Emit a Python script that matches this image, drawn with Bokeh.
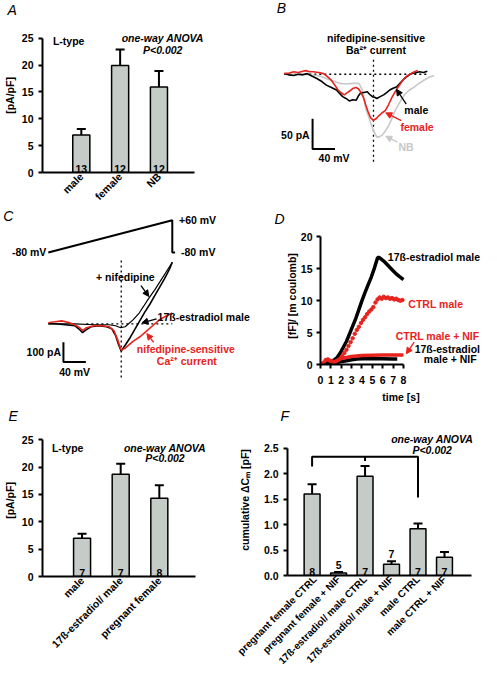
import numpy as np
from bokeh.plotting import figure
from bokeh.layouts import column, row
from bokeh.models import (Range1d, Label, ColumnDataSource, Whisker, TeeHead, LabelSet,
                          Arrow, NormalHead, FixedTicker, PrintfTickFormatter)
from bokeh.core.properties import value
from bokeh.embed import file_html
from bokeh.resources import INLINE

FONT = "Liberation Sans"
RED = "#e8231d"
NB_GRAY = "#c8c8c8"
BAR_FILL = "#c5cbc7"
FS = "10.5px"

# ---------------- data ----------------
# A: L-type current density
a_groups = ["male", "female", "NB"]
a_mean = [7.0, 19.9, 15.9]
a_sem = [1.1, 3.0, 3.0]
a_n = ["13", "12", "12"]

# B: nifedipine-sensitive Ba2+ current traces (mV, pA)
b_male_mv = [-80, -72, -63, -55, -47, -39, -31, -22, -13, -5, 4, 13, 19, 24, 30, 36, 42, 48, 52, 56,
             62, 68, 72, 77, 81, 85, 91, 97, 103, 108, 114, 120, 127, 134, 140, 146, 153, 161, 168, 175]
b_male_pa = [1, -1, -2, 0, -1, 1, -3, -7, -12, -18, -22, -26, -32, -37, -40, -44, -42, -43, -36, -31,
             -30, -29, -33, -37, -38, -40, -37, -34, -30, -26, -23, -21, -14, -7, -3, 1, 2, 4, 3, 5]
b_female_mv = [-80, -71, -63, -55, -47, -42, -35, -28, -19, -10, -3, 4, 10, 16, 22, 27, 33, 39, 43, 48,
               52, 56, 61, 65, 69, 74, 79, 84, 88, 94, 100, 106, 111, 117, 123, 129, 134, 140, 146, 152, 158]
b_female_pa = [1, 2, 4, 3, 5, 6, 4, 4, 3, 1, -4, -10, -18, -26, -31, -34, -30, -26, -23, -22,
               -24, -29, -38, -50, -61, -72, -76, -73, -69, -64, -60, -50, -40, -30, -21, -13, -7, -2, 1, 4, 6]
b_nb_mv = [-80, -65, -51, -36, -22, -13, -5, 7, 19, 30, 42, 53, 56, 59, 62, 65, 71, 77, 81, 85,
           90, 94, 100, 106, 112, 117, 126, 134, 143, 152, 160, 169, 178, 187]
b_nb_pa = [1, 0, 1, -1, -2, -4, -7, -11, -15, -16, -15, -15, -20, -26, -40, -56, -72, -88, -97, -104,
           -103, -101, -94, -85, -73, -61, -46, -34, -26, -21, -15, -10, -5, -2]
b_scale_pa = 50
b_scale_mv = 40

# C: ramp protocol and Ca2+ currents (mV, pA)
c_ramp_x = [-80, 141, 141, 146]
c_ramp_mv = [-80, 60, -80, -80]
c_total_mv = [-80, -68, -50, -33, -24, -19, -12, -4, 10, 24, 33, 40, 45, 50, 57, 66, 75, 84, 92, 101,
              110, 118, 127, 136, 141]
c_total_pa = [0, 0, -5, -10, -30, -45, -30, -15, -10, -15, -25, -60, -105, -140, -110, -70, -25, 20, 60, 100,
              145, 185, 230, 280, 315]
c_nif_mv = [-80, -33, 2, 28, 40, 49, 57, 71, 82, 90, 99, 110, 120, 130, 141]
c_nif_pa = [0, 0, -5, -5, -10, -20, -15, 20, 55, 90, 130, 175, 220, 265, 315]
c_sens_mv = [-80, -68, -56, -42, -33, -24, -19, -12, 2, 16, 28, 37, 44, 50, 57, 71, 84, 94, 106, 118, 130, 141]
c_sens_pa = [5, 10, 15, 5, -5, -20, -35, -20, -10, -10, -15, -35, -85, -135, -125, -90, -65, -40, -10, 20, 40, 55]
c_scale_pa = 100
c_scale_mv = 40

# D: capacitance increase over time
d_e2_t = [0, 0.5, 1.0, 1.3, 1.6, 1.9, 2.2, 2.5, 2.8, 3.1, 3.4, 3.7, 4.0, 4.3, 4.6, 4.9, 5.2, 5.5, 5.6,
          5.8, 6.1, 6.4, 6.7, 7.0, 7.3, 7.6, 8.0]
d_e2_y = [0, 0.1, 0.4, 0.7, 1.1, 1.8, 2.7, 3.6, 4.8, 6.0, 7.2, 8.6, 10.0, 11.3, 12.5, 13.7, 15.1, 16.7, 16.8,
          16.6, 16.2, 15.7, 15.2, 14.7, 14.2, 13.8, 13.3]
d_ctrl_t = [0.1, 0.3, 0.5, 0.7, 0.9, 1.1, 1.3, 1.5, 1.7, 1.9, 2.1, 2.3, 2.5, 2.7, 2.9, 3.1, 3.3, 3.5, 3.7, 3.9,
            4.1, 4.3, 4.5, 4.7, 4.9, 5.1, 5.3, 5.5, 5.7, 5.9, 6.1, 6.3, 6.5, 6.7, 6.9, 7.1, 7.3, 7.5, 7.7, 7.9]
d_ctrl_y = [0.0, 0.3, 0.7, 0.8, 0.6, 0.5, 0.4, 0.5, 0.7, 0.9, 1.3, 1.8, 2.3, 2.9, 3.5, 4.1, 4.8, 5.4, 5.9, 6.5,
            7.0, 7.4, 7.9, 8.3, 8.6, 9.0, 9.7, 10.2, 10.5, 10.3, 10.6, 10.4, 10.5, 10.3, 10.4, 10.2, 10.3, 10.1, 10.0, 10.1]
d_ctrlnif_t = [0, 0.5, 1.0, 1.5, 2.0, 2.5, 3.0, 3.5, 4.0, 5.0, 6.0, 7.0, 8.0]
d_ctrlnif_y = [0, 0.15, 0.4, 0.7, 0.95, 1.1, 1.25, 1.35, 1.4, 1.45, 1.5, 1.5, 1.5]
d_e2nif_t = [0, 1.0, 1.5, 2.0, 2.5, 3.0, 3.5, 4.0, 5.0, 6.0, 7.0, 7.4]
d_e2nif_y = [0, 0.05, 0.25, 0.45, 0.6, 0.75, 0.85, 0.9, 0.9, 0.9, 0.85, 0.85]
d_xticks = [0, 1, 2, 3, 4, 5, 6, 7, 8]
d_yticks = [0, 5, 10, 15, 20]

# E: L-type current density
e_groups = ["male", "17ß-estradiol/ male", "pregnant female"]
e_mean = [7.0, 18.7, 14.3]
e_sem = [0.8, 1.9, 2.4]
e_n = ["7", "7", "8"]

# F: cumulative capacitance
f_groups = ["pregnant female CTRL", "pregnant female + NIF", "17ß-estradiol/ male CTRL",
            "17ß-estradiol/ male + NIF", "male CTRL", "male CTRL + NIF"]
f_mean = [1.60, 0.05, 1.95, 0.22, 0.92, 0.36]
f_sem = [0.19, 0.02, 0.20, 0.06, 0.10, 0.10]
f_n = ["8", "5", "7", "7", "7", "7"]
f_bracket_top = 2.33
f_bracket_ends = [2.14, 2.25, 1.53]   # drops at groups 0, 2, 4

# ---------------- geometry (reference-picture pixels -> page pixels) ----------------
SX = 481 / 493
SY = 673 / 689
COLS = {"L": (4, 235), "R": (245, 246), "L2": (4, 252), "R2": (4 + 252 / SX, 229)}
ROWS = {1: (0, 209), 2: (214, 197), 3: (416, 267)}
TOP = 18   # header strip (panel letter) above framed axes plots


def make_panel(col, rk, fx, fy, letter=None, axis_at=None):
    """axis_at=(ref x of y axis, ref y of x axis) -> framed plot with axes and a letter title;
    otherwise the frame fills the whole canvas."""
    x0, W = COLS[col]
    y0, H = ROWS[rk]
    R = x0 + W / SX
    if axis_at is not None:
        L, B = axis_at
        T = y0 + TOP / SY
        fl = round((L - x0) * SX)
        fb = round((B - y0) * SY)
        borders = dict(min_border_left=fl, min_border_right=0, min_border_top=TOP,
                       min_border_bottom=H - fb)
        loc = dict(x_axis_location="below", y_axis_location="left")
    else:
        L, T, B = x0, y0, y0 + H / SY
        fl = 0
        borders = dict(min_border_left=0, min_border_right=0, min_border_top=0, min_border_bottom=0)
        loc = dict(x_axis_location=None, y_axis_location=None)
    p = figure(width=W, height=H, output_backend="svg", toolbar_location=None,
               x_range=Range1d(fx(L), fx(R)), y_range=Range1d(fy(B), fy(T)), **borders, **loc)
    p.frame_align = False
    p.outline_line_color = None
    p.background_fill_color = "white"
    p.border_fill_color = "white"
    p.grid.visible = False
    if letter is not None:
        text, left_px = letter
        p.title.text = text
        p.title.align = "left"
        p.title.offset = left_px - fl
        p.title.text_font = FONT
        p.title.text_font_style = "italic"
        p.title.text_font_size = "14px"
        p.title.text_color = "black"
        p.title.standoff = 0
        p.title.vertical_align = "middle"
    else:
        p.title.visible = False

    def to(rx, ry):
        return fx(rx), fy(ry)
    return p, to


def txt(p, to, text, rx, ry, color="black", size=FS, style="bold", align="center",
        baseline="middle"):
    x, y = to(rx, ry)
    p.add_layout(Label(x=x, y=y, text=text, text_font=FONT, text_font_size=size,
                       text_font_style=style, text_color=color, text_align=align,
                       text_baseline=baseline))


def arrow(p, to, r0, r1, color):
    x0, y0 = to(*r0)
    x1, y1 = to(*r1)
    p.add_layout(Arrow(x_start=x0, y_start=y0, x_end=x1, y_end=y1, line_color=color, line_width=1.3,
                       end=NormalHead(size=6, fill_color=color, line_color=color, line_width=1)))


def style_axes(p, yticks, xticks, ylabel=None, xlabel=None, ytick_std=5, ylab_std=3,
               xtick_std=7, xlab_std=4, yfmt=None):
    for ax in p.axis:
        ax.axis_line_width = 2
        ax.axis_line_color = "black"
        ax.major_tick_line_width = 2
        ax.major_tick_line_color = "black"
        ax.major_tick_out = 4
        ax.major_tick_in = 0
        ax.minor_tick_line_color = None
        ax.major_label_text_font = FONT
        ax.major_label_text_font_style = "bold"
        ax.major_label_text_font_size = FS
        ax.major_label_text_color = "black"
        ax.axis_label_text_font = FONT
        ax.axis_label_text_font_style = "bold"
        ax.axis_label_text_font_size = FS
        ax.axis_label_text_color = "black"
    p.yaxis.ticker = FixedTicker(ticks=yticks)
    p.xaxis.ticker = FixedTicker(ticks=xticks)
    p.yaxis.bounds = (yticks[0], yticks[-1])
    p.yaxis.major_label_standoff = ytick_std
    p.yaxis.axis_label_standoff = ylab_std
    p.xaxis.major_label_standoff = xtick_std
    p.xaxis.axis_label_standoff = xlab_std
    if ylabel:
        p.yaxis.axis_label = ylabel
    if xlabel:
        p.xaxis.axis_label = xlabel
    if yfmt is not None:
        p.yaxis.formatter = yfmt


def bar_panel(col, rk, axis_at, axis_end, fx, fy, groups, mean, sem, nlab, bar_w, yticks, ylabel,
              letter, ylab_std=3, above_below=None, yfmt=None, cat_size=FS):
    p, to = make_panel(col, rk, fx, fy, letter, axis_at=axis_at)
    x = list(range(len(groups)))
    upper = [m + s for m, s in zip(mean, sem)]
    lower = [m - s for m, s in zip(mean, sem)]
    if above_below is None:
        ny = [0.0] * len(x)
        noff = [0] * len(x)
    else:
        ny = [u if m < above_below else 0.0 for m, u in zip(mean, upper)]
        noff = [3 if m < above_below else 0 for m in mean]
    src = ColumnDataSource(dict(x=x, mean=mean, upper=upper, lower=lower, n=nlab, ny=ny, noff=noff))
    p.vbar(x="x", top="mean", width=bar_w, source=src, fill_color=BAR_FILL,
           line_color="black", line_width=1.5)
    p.add_layout(Whisker(source=src, base="x", upper="upper", lower="lower", line_width=2,
                         line_color="black",
                         upper_head=TeeHead(size=9, line_width=2, line_color="black"),
                         lower_head=TeeHead(size=9, line_width=2, line_color="black")))
    p.add_layout(LabelSet(source=src, x="x", y="ny", text="n", y_offset="noff",
                          text_align="center", text_baseline="bottom",
                          text_font=value(FONT), text_font_size=FS, text_font_style="bold",
                          text_color="black"))
    style_axes(p, yticks, x, ylabel=ylabel, ylab_std=ylab_std, yfmt=yfmt)
    p.xaxis.major_label_overrides = {i: g for i, g in enumerate(groups)}
    p.xaxis.major_label_orientation = np.pi / 4
    p.xaxis.major_tick_out = 0
    p.xaxis.major_tick_line_color = None
    p.xaxis.major_label_standoff = 2
    p.xaxis.major_label_text_font_size = cat_size
    p.xaxis.bounds = (fx(axis_at[0]), fx(axis_end))
    return p, to


# ---------------- panel A ----------------
pA, toA = bar_panel("L", 1, (41, 179), 202, lambda rx: (rx - 82) / 41,
                    lambda ry: (179 - ry) * 25 / 140, a_groups, a_mean, a_sem, a_n, 0.44,
                    [0, 5, 10, 15, 20, 25], "[pA/pF]", ("A", 1))
txt(pA, toA, "L-type", 52, 42, align="left")
txt(pA, toA, "one-way ANOVA", 168, 39, style="bold italic")
txt(pA, toA, "P<0.002", 168, 51, style="bold italic")

# ---------------- panel B ----------------
pB, toB = make_panel("R", 1, lambda rx: -80 + (rx - 295) / 0.575, lambda ry: (75.5 - ry) / 0.62)
txt(pB, toB, "B", 292, 8, size="14px", style="italic")
txt(pB, toB, "nifedipine-sensitive", 389, 38)
txt(pB, toB, "Ba²⁺ current", 389, 51)
b_end = max(max(b_male_mv), max(b_female_mv))
pB.line([b_male_mv[0], b_end], [0, 0], line_color="black", line_width=1.3, line_dash="2 3")
b_peak = b_female_mv[int(np.argmin(b_female_pa))]
_, vb_top = toB(0, 60)
_, vb_bot = toB(0, 165)
pB.line([b_peak, b_peak], [vb_bot, vb_top], line_color="black", line_width=1.3, line_dash="2 3")
pB.line(b_nb_mv, b_nb_pa, line_color=NB_GRAY, line_width=1.6)
pB.line(b_male_mv, b_male_pa, line_color="black", line_width=1.6)
pB.line(b_female_mv, b_female_pa, line_color=RED, line_width=1.6)
sbx, sby = toB(324, 152)
pB.line([sbx, sbx, sbx + b_scale_mv], [sby + b_scale_pa, sby, sby], line_color="black", line_width=2)
txt(pB, toB, "50 pA", 321, 138, align="right")
txt(pB, toB, "40 mV", 346, 161)
txt(pB, toB, "male", 418, 112, align="left")
txt(pB, toB, "female", 414, 129, color=RED, align="left")
txt(pB, toB, "NB", 412, 150, color=NB_GRAY, align="left")
arrow(pB, toB, (420, 106), (410, 91), "black")
arrow(pB, toB, (415, 123), (399, 115), RED)
arrow(pB, toB, (411, 145), (399, 139), NB_GRAY)

# ---------------- panel C ----------------
fvC = lambda ry: -80 + (258 - ry) * 140 / 33
pC, toC = make_panel("L2", 2, lambda rx: -80 + (rx - 53) / 0.575, lambda ry: (331 - ry) * 5)
pC.extra_y_ranges = {"v": Range1d(fvC(214 + 197 / SY), fvC(214))}
txt(pC, toC, "C", 12, 221, size="14px", style="italic")
pC.line(c_ramp_x, c_ramp_mv, y_range_name="v", line_color="black", line_width=2)
txt(pC, toC, "-80 mV", 51, 258, align="right")
txt(pC, toC, "+60 mV", 187, 225, align="left")
txt(pC, toC, "-80 mV", 189, 258, align="left")
c_peak = c_total_mv[int(np.argmin(c_total_pa))]
_, vc_top = toC(0, 265)
_, vc_bot = toC(0, 386)
pC.line([c_peak, c_peak], [vc_bot, vc_top], line_color="black", line_width=1.3, line_dash="2 3")
hx0, _ = toC(92, 0)
pC.line([hx0, c_total_mv[-1]], [0, 0], line_color="black", line_width=1.3, line_dash="2 3")
pC.line(c_nif_mv, c_nif_pa, line_color="black", line_width=1.2)
pC.line(c_total_mv, c_total_pa, line_color="black", line_width=1.6)
pC.line(c_sens_mv, c_sens_pa, line_color=RED, line_width=1.6)
scx, scy = toC(68.5, 370)
pC.line([scx, scx, scx + c_scale_mv], [scy + c_scale_pa, scy, scy], line_color="black", line_width=2)
txt(pC, toC, "100 pA", 66, 360, align="right")
txt(pC, toC, "40 mV", 80, 380)
txt(pC, toC, "+ nifedipine", 132, 283)
arrow(pC, toC, (148, 292), (156, 303), "black")
txt(pC, toC, "17ß-estradiol male", 165, 324, align="left")
arrow(pC, toC, (164, 326), (149, 330), "black")
txt(pC, toC, "nifedipine-sensitive", 194, 357, color=RED)
txt(pC, toC, "Ca²⁺ current", 195, 369, color=RED)
arrow(pC, toC, (161, 350), (154, 341), RED)

# ---------------- panel D ----------------
pD, toD = make_panel("R2", 2, lambda rx: (rx - 332) * 8 / 85, lambda ry: (373 - ry) * 20 / 131,
                     ("D", 22), axis_at=(332, 373))
style_axes(pD, d_yticks, d_xticks, ylabel="[fF]/ [m coulomb]", xlabel="time [s]",
           ytick_std=4, ylab_std=0, xtick_std=7, xlab_std=4)
pD.xaxis.bounds = (d_xticks[0], d_xticks[-1])
pD.line(d_e2nif_t, d_e2nif_y, line_color="black", line_width=3.5)
pD.line(d_ctrlnif_t, d_ctrlnif_y, line_color=RED, line_width=3.5)
pD.line(d_e2_t, d_e2_y, line_color="black", line_width=3.5)
pD.scatter(d_ctrl_t, d_ctrl_y, size=3.5, color=RED, marker="circle")
txt(pD, toD, "17ß-estradiol male", 401, 263, align="left")
txt(pD, toD, "CTRL male", 422, 311, color=RED, align="left")
txt(pD, toD, "CTRL male + NIF", 409, 344, color=RED, align="left")
arrow(pD, toD, (428, 350), (420, 362), RED)
txt(pD, toD, "17ß-estradiol", 462, 357)
txt(pD, toD, "male + NIF", 465, 367)

# ---------------- panel E ----------------
pE, toE = bar_panel("L", 3, (40, 590), 202, lambda rx: (rx - 82) / 41,
                    lambda ry: (590 - ry) * 25 / 140, e_groups, e_mean, e_sem, e_n, 0.44,
                    [0, 5, 10, 15, 20, 25], "[pA/pF]", ("E", 1))
txt(pE, toE, "L-type", 50, 458, align="left")
txt(pE, toE, "one-way ANOVA", 170, 458, style="bold italic")
txt(pE, toE, "P<0.002", 170, 469, style="bold italic")

# ---------------- panel F ----------------
pF, toF = bar_panel("R", 3, (292, 591), 487, lambda rx: (rx - 318) / 28,
                    lambda ry: (591 - ry) * 2.5 / 132, f_groups, f_mean, f_sem, f_n, 0.6,
                    [0, 0.5, 1.0, 1.5, 2.0, 2.5], "cumulative ΔCₘ [pF]", ("F", 39), ylab_std=10,
                    above_below=0.3, yfmt=PrintfTickFormatter(format="%.1f"), cat_size="10px")
pF.line([0, 0, 4, 4], [f_bracket_ends[0], f_bracket_top, f_bracket_top, f_bracket_ends[2]],
        line_color="black", line_width=2)
pF.line([2, 2], [f_bracket_top, f_bracket_ends[1]], line_color="black", line_width=2)
txt(pF, toF, "one-way ANOVA", 445, 449, style="bold italic")
txt(pF, toF, "P<0.002", 445, 461, style="bold italic")

layout = column(row(pA, pB), row(pC, pD), row(pE, pF))
open("out.html", "w").write(file_html(layout, INLINE))
